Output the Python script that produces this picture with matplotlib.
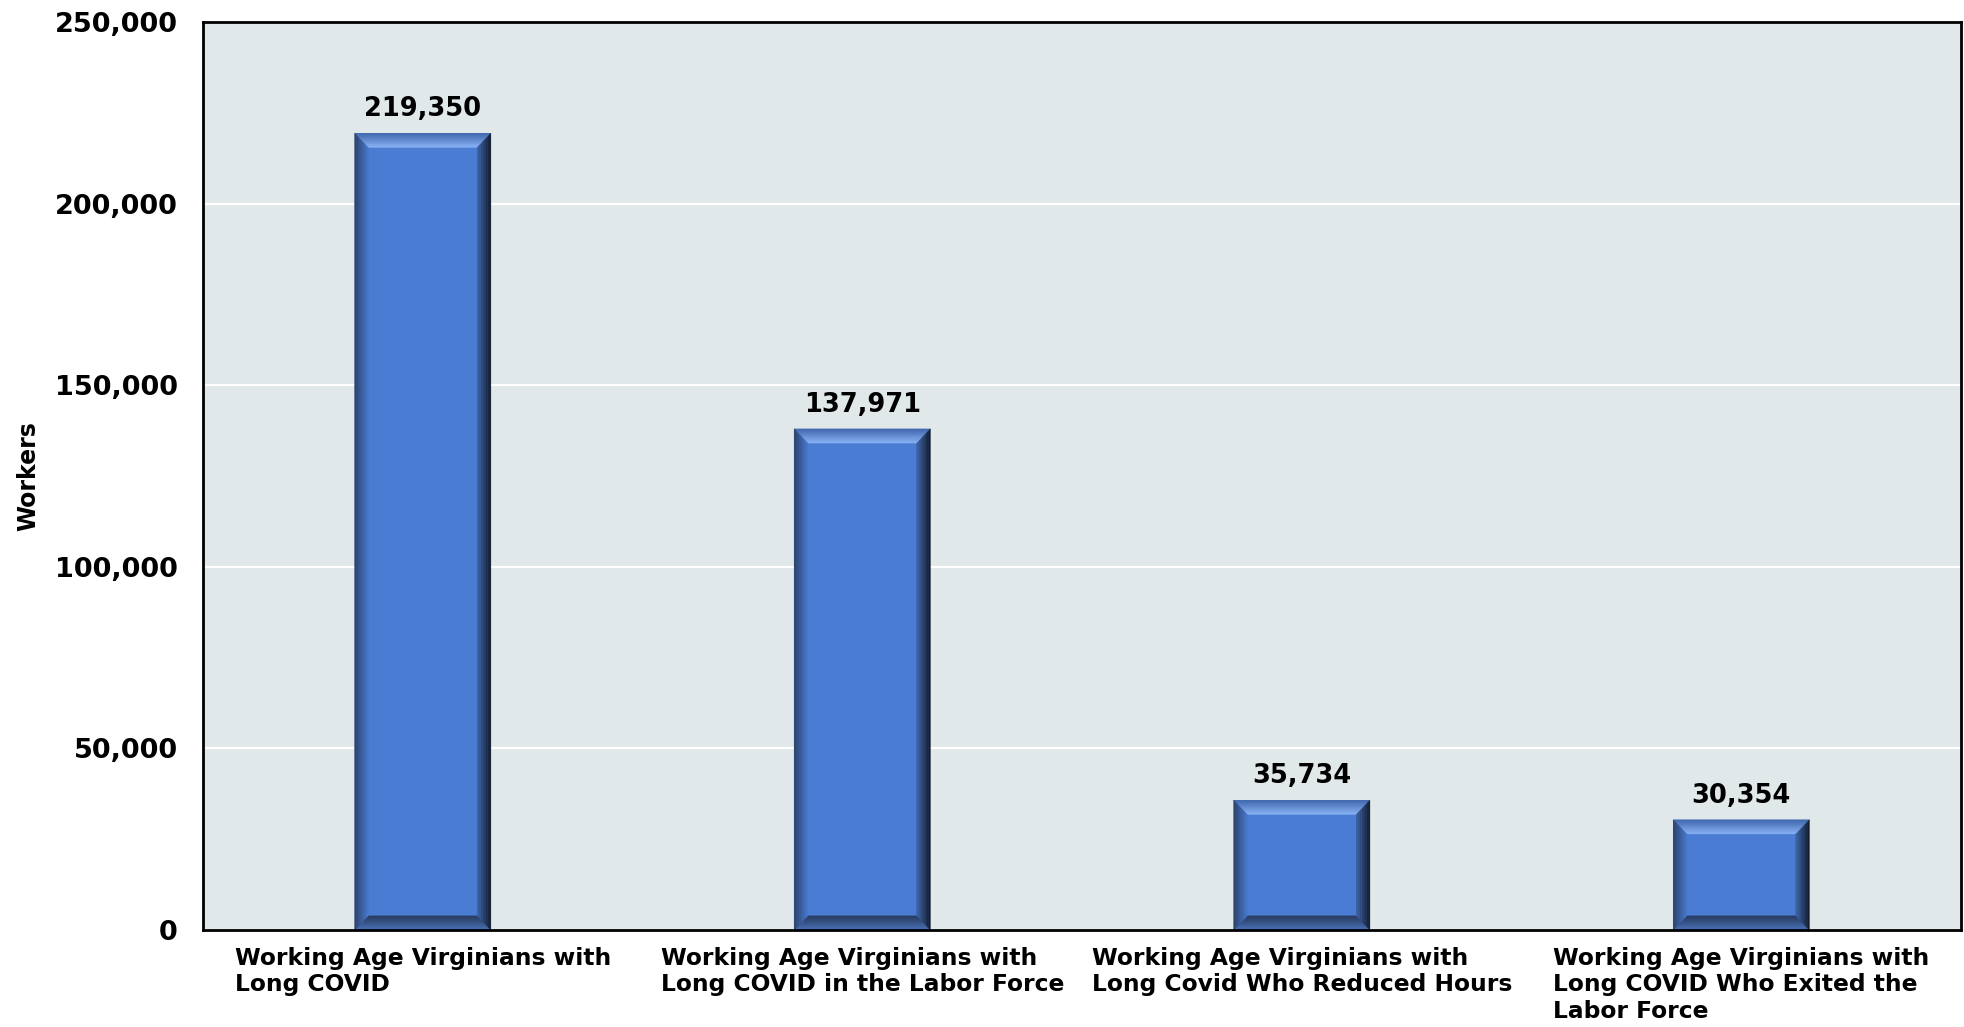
import matplotlib
matplotlib.use("Agg")
import matplotlib.pyplot as plt
import numpy as np
from matplotlib.patches import Polygon
from matplotlib.colors import to_rgb
from matplotlib.ticker import FuncFormatter

categories = [
    "Working Age Virginians with\nLong COVID",
    "Working Age Virginians with\nLong COVID in the Labor Force",
    "Working Age Virginians with\nLong Covid Who Reduced Hours",
    "Working Age Virginians with\nLong COVID Who Exited the\nLabor Force",
]
values = [219350, 137971, 35734, 30354]
y_ticks = [0, 50000, 100000, 150000, 200000, 250000]

plt.rcParams['font.family'] = ['DejaVu Sans']
plt.rcParams['font.weight'] = 'bold'

fig = plt.figure(figsize=(19.65, 10.27), dpi=100)
ax = fig.add_axes([0.1033, 0.0944, 0.8947, 0.8842])
ax.set_facecolor('#E0E8EA')

x = list(range(len(values)))
bars = ax.bar(x, values, width=0.31, color='#4A7CD3', zorder=3)
ax.set_xlim(-0.5, len(values) - 0.5)
ax.set_ylim(0, 250000)


def mix(c1, c2, t):
    a, b = np.array(to_rgb(c1)), np.array(to_rgb(c2))
    return tuple(a + (b - a) * t)


# bevel overlays derived from each bar's geometry
bx = 0.031
by = 3900
N = 8
sides = {
    'top': ('#3F65AA', '#8AB3F6'),
    'left': ('#2A3F66', '#4878CC'),
    'right': ('#111826', '#3E64A6'),
    'bottom': ('#4A72B8', '#27395C'),
}
for rect in bars.patches:
    x0, y0 = rect.get_x(), rect.get_y()
    w, h = rect.get_width(), rect.get_height()
    x1, y1 = x0 + w, y0 + h
    for i in range(N):
        fa, fb = i / N, (i + 1) / N
        t = (i + 0.5) / N
        P = lambda f: (x0 + f * bx, y0 + f * by, x1 - f * bx, y1 - f * by)
        a0, b0, a1, b1 = P(fa)
        c0, d0, c1, d1 = P(fb)
        polys = {
            'top': [(a0, b1), (a1, b1), (c1, d1), (c0, d1)],
            'bottom': [(a0, b0), (a1, b0), (c1, d0), (c0, d0)],
            'left': [(a0, b0), (a0, b1), (c0, d1), (c0, d0)],
            'right': [(a1, b0), (a1, b1), (c1, d1), (c1, d0)],
        }
        for side, pts in polys.items():
            ax.add_patch(Polygon(pts, closed=True, color=mix(*sides[side], t),
                                 zorder=4, lw=0.3))
    ax.annotate(f"{int(h):,}", (rect.get_x() + w / 2, y1), xytext=(0, 8),
                textcoords='offset points', ha='center', va='bottom',
                fontsize=18.5, fontweight='bold', color='black', zorder=5)

ax.set_yticks(y_ticks)
ax.yaxis.set_major_formatter(FuncFormatter(lambda v, p: f"{int(v):,}"))
ax.grid(axis='y', color='white', linewidth=1.6, zorder=1)
ax.set_axisbelow(True)

ax.set_xticks(x)
ax.set_xticklabels(categories, fontsize=16.8, fontweight='bold', ha='center',
                   multialignment='left', linespacing=1.2, va='top')
ax.tick_params(axis='both', length=0)
ax.tick_params(axis='x', pad=12)
ax.tick_params(axis='y', pad=18, labelsize=19.5)
for lab in ax.get_yticklabels():
    lab.set_fontweight('bold')

ax.set_ylabel("Workers", fontsize=17, fontweight='bold')
ax.yaxis.set_label_coords(-0.0925, 0.5)

for sp in ax.spines.values():
    sp.set_color('black')
    sp.set_linewidth(2)
    sp.set_zorder(6)

fig.savefig("out.png", dpi=100)
